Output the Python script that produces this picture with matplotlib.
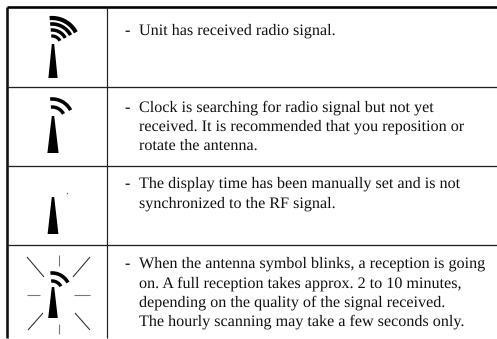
import numpy as np
import matplotlib
matplotlib.use('Agg')
import matplotlib.pyplot as plt
from matplotlib.patches import Polygon

plt.rcParams['text.hinting'] = 'none'

W, H = 497, 339

# table rules (pixels)
hlines_y = [87, 165.5, 245]
hlines_lw = [1.3, 1.3, 1.3]
top_y = 7
left_x = 7
mid_x = 107

# text: (baseline y, string)
dash_x = 124.5
text_x = 139
dash_y = [35, 112, 188, 268]
text_lines = [
    (35, "Unit has received radio signal."),
    (112, "Clock is searching for radio signal but not yet"),
    (131, "received. It is recommended that you reposition or"),
    (150, "rotate the antenna."),
    (188, "The display time has been manually set and is not"),
    (208, "synchronized to the RF signal."),
    (268, "When the antenna symbol blinks, a reception is going"),
    (288, "on. A full reception takes approx. 2 to 10 minutes,"),
    (307, "depending on the quality of the signal received."),
    (326, "The hourly scanning may take a few seconds only."),
]

# antenna towers: apex x, apex y, half base, base y
towers = [(53, 44, 4.6, 78), (53, 116, 5.6, 153), (53, 197, 5.4, 234), (53, 287, 4.8, 318)]

# arcs: centre x, centre y, radius, stroke
arcs = [
    (52, 45, 27, 4.2), (52, 45, 21, 3.6), (52, 45, 15, 3.4), (52, 45, 9, 3.2),
    (52, 120, 21, 3.6), (52, 120, 13, 3.4),
    (52, 291, 18, 3.6), (52, 291, 10, 3.4),
]
arc_from = 95
arc_to = 28

# blink rays around the last antenna
rays_x = [(59, 59), (59, 59), (27, 40), (74, 90), (27, 44), (90, 73), (28, 43), (90, 75)]
rays_y = [(255, 266), (324, 334), (295, 295), (295, 295), (257, 277), (257, 277), (330, 313), (330, 313)]
rays_c = ['#777777', '#777777', '#777777', '#777777', '#333333', '#333333', '#333333', '#333333']

fig = plt.figure(figsize=(W / 100, H / 100), dpi=100)
ax = fig.add_axes([0, 0, 1, 1])
ax.set_xlim(0, W)
ax.set_ylim(H, 0)
ax.axis('off')
px = 72 / 100

ax.plot([left_x, W], [top_y, top_y], color='black', lw=2.6 * px, solid_capstyle='butt')
ax.plot([left_x, left_x], [top_y, H - 1], color='#111111', lw=2.6 * px, solid_capstyle='butt')
ax.plot([mid_x, mid_x], [top_y, H - 1], color='#222222', lw=1.2 * px, solid_capstyle='butt')
for y, lw in zip(hlines_y, hlines_lw):
    ax.plot([left_x, W], [y, y], color='#222222', lw=lw * px, solid_capstyle='butt')

for x, y, hb, yb in towers:
    ax.add_patch(Polygon([(x - 1.2, y), (x + 1.2, y), (x + hb, yb), (x - hb, yb)], closed=True, fc='black', ec='none'))

for cx, cy, r, lw in arcs:
    t = np.radians(np.linspace(arc_from, arc_to, 40))
    ax.plot(cx + r * np.cos(t), cy - r * np.sin(t), color='black', lw=lw * px, solid_capstyle='butt')

for xs, ys, c in zip(rays_x, rays_y, rays_c):
    ax.plot(xs, ys, color=c, lw=1.1 * px, solid_capstyle='butt')

# the small dot next to the third antenna
ax.plot([67], [193], marker='s', ms=0.9, color='#555555', mec='none')

for y in dash_y:
    ax.text(dash_x, y, "-", family='Liberation Serif', fontsize=11.6, va='baseline', ha='left', color='black')
for y, s in text_lines:
    ax.text(text_x, y, s, family='Liberation Serif', fontsize=11.6, va='baseline', ha='left', color='#111111')

fig.savefig('out.png', dpi=100)
